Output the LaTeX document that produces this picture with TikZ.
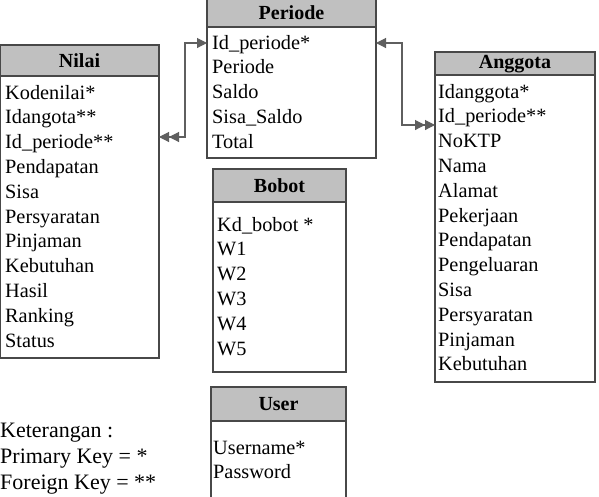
\documentclass[tikz,border=0pt]{standalone}
\usepackage{fontspec}
\setmainfont{Liberation Serif}
\usetikzlibrary{arrows.meta}
\definecolor{headgray}{RGB}{192,192,192}
\definecolor{boxline}{RGB}{72,72,72}
\definecolor{linkgray}{RGB}{95,95,95}
\begin{document}
\begin{tikzpicture}[x=1pt,y=-1pt,
  frame/.style={draw=boxline,line width=1.1pt,inner sep=0pt,outer sep=0pt,anchor=north west},
  headbox/.style={frame,fill=headgray},
  bodybox/.style={frame,fill=white},
  headtext/.style={font=\fontsize{20}{24}\selectfont\bfseries,inner sep=0pt},
  rowtext/.style={font=\fontsize{20.3}{24}\selectfont,anchor=base west,inner sep=0pt},
  legendtext/.style={font=\fontsize{22}{26}\selectfont,anchor=base west,inner sep=0pt},
  link/.style={draw=linkgray,line width=1.1pt},
  tip/.tip={Triangle[length=10pt,width=10pt,sep=0pt]}
]
\useasboundingbox (0,0) rectangle (599,496);

% ---- Periode ----
\node[headbox,minimum width=169pt,minimum height=29pt] (perH) at (207,-2) {};
\node[headtext] at (291.5,13) {Periode};
\node[bodybox,minimum width=169pt,minimum height=131pt] (perB) at (207,27) {};
\foreach \t [count=\i from 0] in {Id\_periode*,Periode,Saldo,Sisa\_Saldo,Total}
  \node[rowtext] (per\i) at (212,49+24.8*\i) {\t};

% ---- Nilai ----
\node[headbox,minimum width=159pt,minimum height=31pt] (nilH) at (0,45) {};
\node[headtext] at (79.5,61) {Nilai};
\node[bodybox,minimum width=159pt,minimum height=282pt] (nilB) at (0,76) {};
\foreach \t [count=\i from 0] in {Kodenilai*,Idangota**,Id\_periode**,Pendapatan,Sisa,Persyaratan,Pinjaman,Kebutuhan,Hasil,Ranking,Status}
  \node[rowtext] (nil\i) at (5,99+24.8*\i) {\t};

% ---- Anggota ----
\node[headbox,minimum width=160pt,minimum height=23pt] (angH) at (435,52) {};
\node[headtext] at (515,64) {Anggota};
\node[bodybox,minimum width=160pt,minimum height=307pt] (angB) at (435,75) {};
\foreach \t [count=\i from 0] in {Idanggota*,Id\_periode**,NoKTP,Nama,Alamat,Pekerjaan,Pendapatan,Pengeluaran,Sisa,Persyaratan,Pinjaman,Kebutuhan}
  \node[rowtext] (ang\i) at (438,98+24.8*\i) {\t};

% ---- Bobot ----
\node[headbox,minimum width=133pt,minimum height=33pt] (bobH) at (213,169) {};
\node[headtext] at (279.5,186) {Bobot};
\node[bodybox,minimum width=133pt,minimum height=170pt] (bobB) at (213,202) {};
\foreach \t [count=\i from 0] in {Kd\_bobot *,W1,W2,W3,W4,W5}
  \node[rowtext] (bob\i) at (217,231+24.8*\i) {\t};

% ---- User ----
\node[headbox,minimum width=135pt,minimum height=34pt] (usrH) at (211,387) {};
\node[headtext] at (278.5,404) {User};
\node[bodybox,minimum width=135pt,minimum height=90pt] (usrB) at (211,421) {};
\node[rowtext] (usr0) at (213,454) {Username*};
\node[rowtext] (usr1) at (213,478) {Password};

% ---- relations ----
\draw[link,{tip[]tip[]}-{tip[]}] (nilB.east |- 0,137) -- (185,137) -- (185,43) -- (perB.west |- 0,43);
\draw[link,{tip[]}-{tip[]tip[]}] (perB.east |- 0,43) -- (402,43) -- (402,125) -- (angB.west |- 0,125);

% ---- legend ----
\node[legendtext] (ket) at (0,437) {Keterangan :};
\node[legendtext] (pk) at (0,463) {Primary Key = *};
\node[legendtext] (fk) at (0,489) {Foreign Key = **};
\end{tikzpicture}
\end{document}
